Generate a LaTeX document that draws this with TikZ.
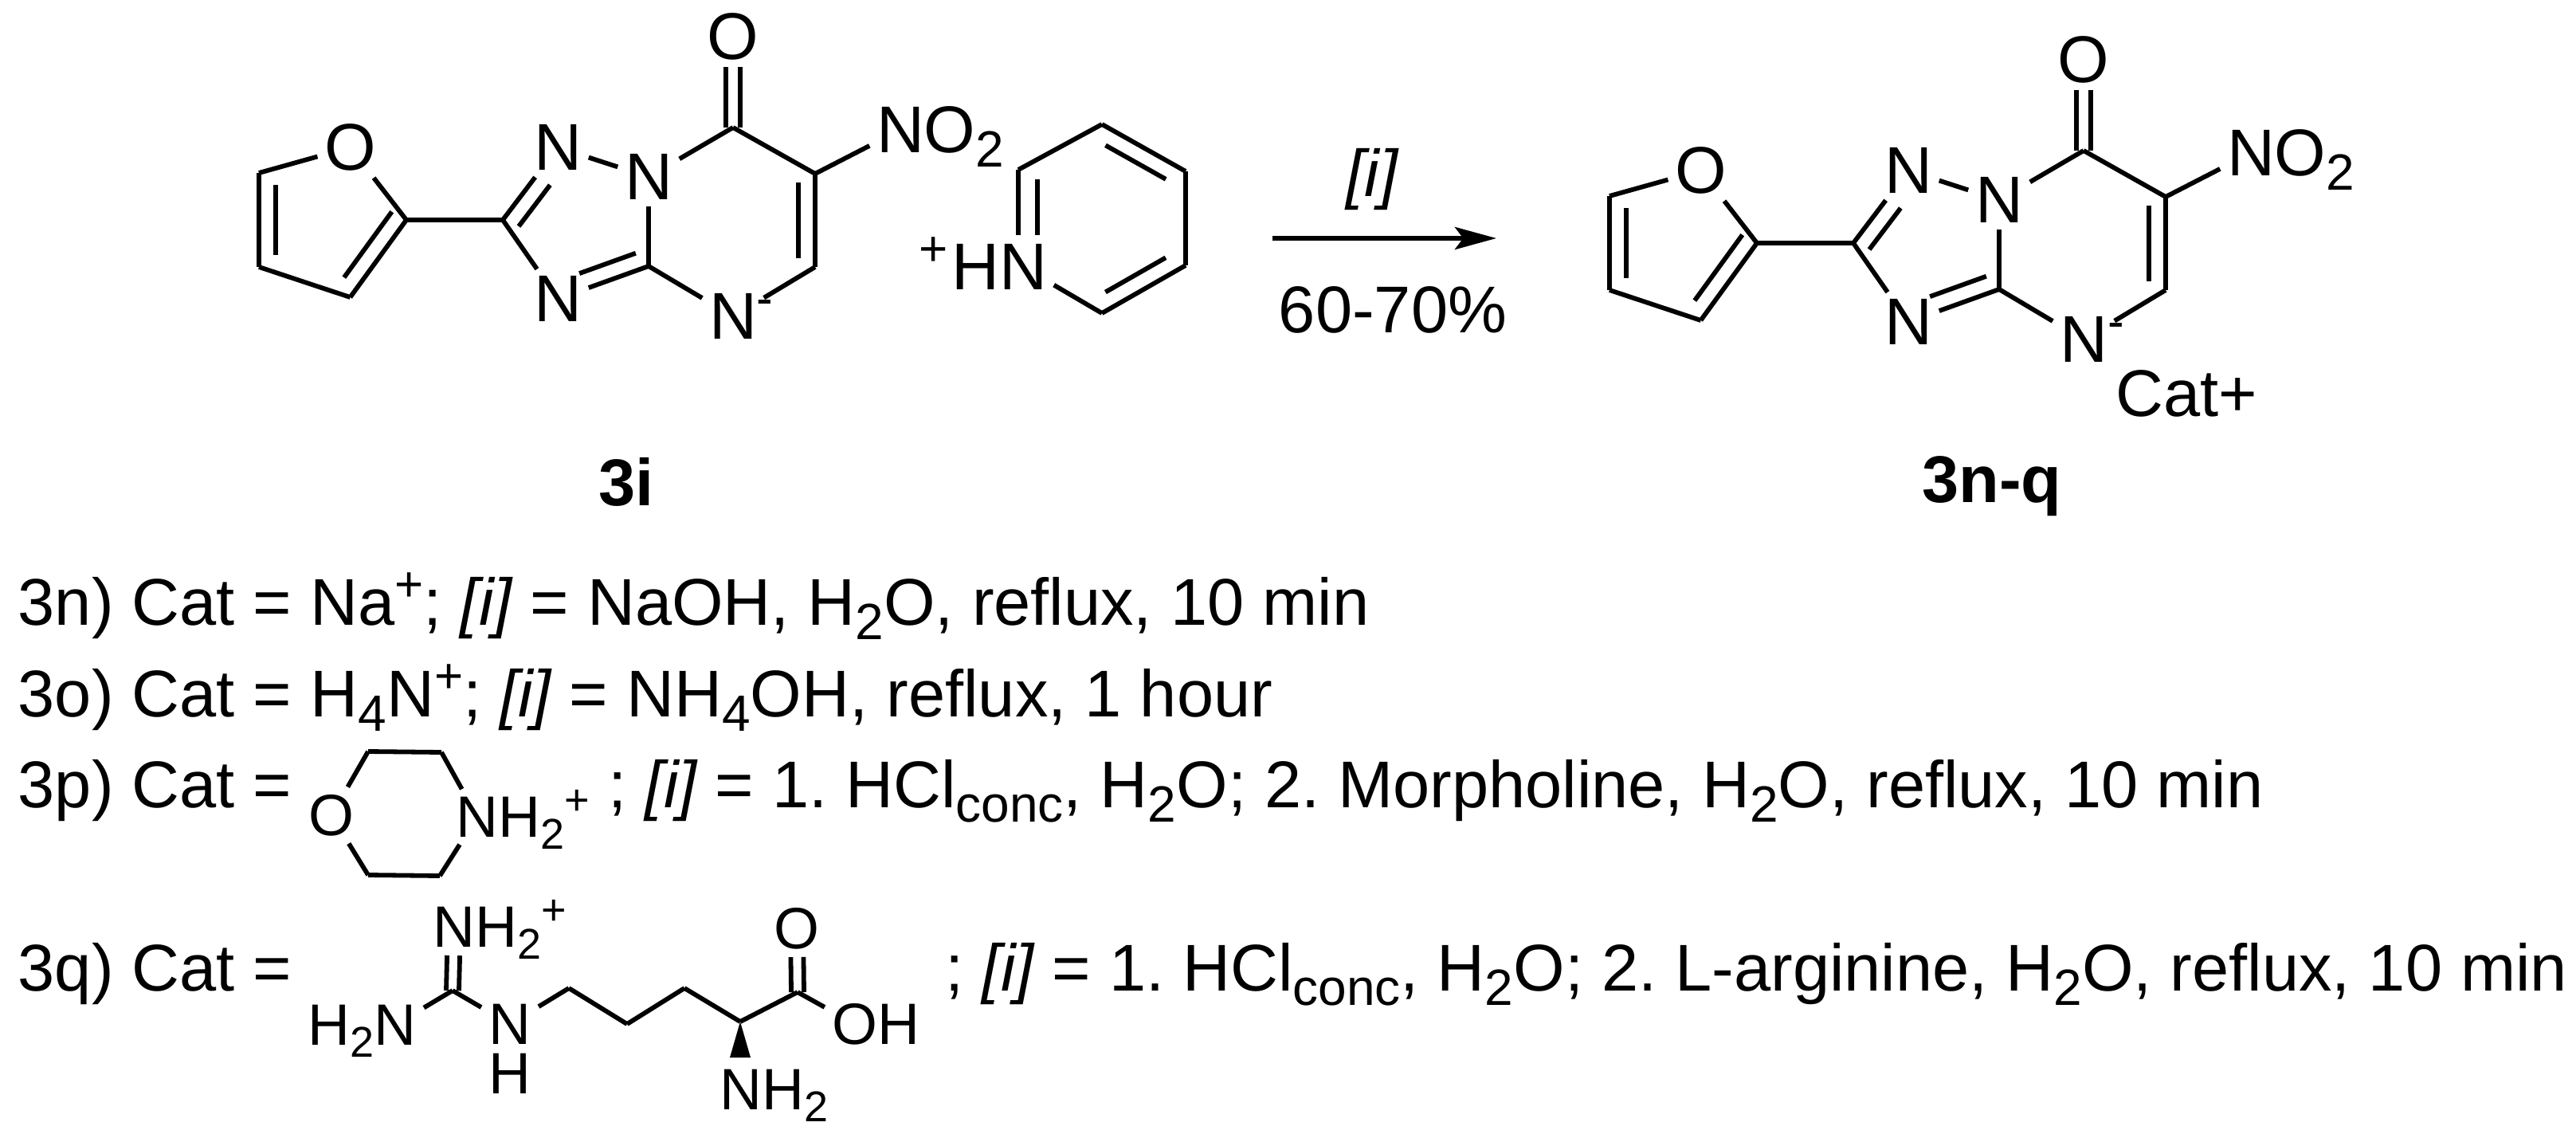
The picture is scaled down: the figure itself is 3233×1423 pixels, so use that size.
\documentclass[tikz,border=0pt]{standalone}
\usepackage{fontspec}
\setmainfont{Liberation Sans}
\usetikzlibrary{calc,arrows.meta}
\frenchspacing
\newcommand{\sbs}[1]{\smash{\raisebox{-4.5pt}{\fontsize{16}{16}\selectfont #1}}}
\newcommand{\sps}[1]{\smash{\raisebox{7.5pt}{\fontsize{15.5}{15.5}\selectfont #1}}}
\newcommand{\sbm}[1]{\smash{\raisebox{-3.8pt}{\fontsize{13.5}{13.5}\selectfont #1}}}
\newcommand{\spm}[1]{\smash{\raisebox{7pt}{\fontsize{13.5}{13.5}\selectfont #1}}}
\tikzset{
  x=0.25pt,y=-0.25pt,
  every node/.style={font=\fontsize{20.75}{25}\selectfont,text=black},
  atom/.style={inner sep=2pt,anchor=center},
  atomsm/.style={inner sep=2.2pt,anchor=center,font=\fontsize{18.3}{22}\selectfont},
  txt/.style={inner sep=0pt,anchor=base west},
  bondl/.style={line width=1.45pt,line cap=butt,line join=miter},
  arrowl/.style={line width=1.5pt,-{Stealth[length=13pt,width=7pt,inset=2.6pt]}},
}
\newcommand{\bnd}[2]{\draw[bondl] (#1) -- (#2);}
\newcommand{\inn}[5]{\draw[bondl] ($(#1)!#4!(#2)!#3!90:(#2)$) -- ($(#2)!#5!(#1)!#3!-90:(#1)$);}
\newcommand{\dblc}[4]{%
  \draw[bondl,shorten >=#4] ($(#1)!#3!90:(#2)$) -- ($(#2)!#3!-90:(#1)$);
  \draw[bondl,shorten >=#4] ($(#1)!#3!-90:(#2)$) -- ($(#2)!#3!90:(#1)$);}
\newcommand{\anion}{%
  \node[atom] (O1) at (439.5,185) {O};
  \coordinate (F1) at (325,217);
  \coordinate (F2) at (325,335);
  \coordinate (F3) at (439.5,373);
  \coordinate (F4) at (510,276);
  \coordinate (T1) at (631,276);
  \node[atom] (N1) at (700,185) {N};
  \node[atom] (N2) at (814,222) {N};
  \node[atom] (N3) at (700,375) {N};
  \coordinate (J) at (814,334);
  \coordinate (C7) at (920,160);
  \node[atom] (O2) at (920,46) {O};
  \coordinate (C6) at (1023,218);
  \coordinate (C5) at (1023,335);
  \node[atom] (N4) at (920,397) {N\rlap{\sps{-}}};
  \node[atom] (NX) at (1130,163) {N\rlap{O\sbs{2}}};
  \bnd{O1}{F1} \bnd{F1}{F2} \bnd{F2}{F3} \bnd{F3}{F4} \bnd{F4}{O1}
  \inn{F1}{F2}{5.2pt}{.13}{.13}
  \inn{F3}{F4}{5.2pt}{.13}{.02}
  \bnd{F4}{T1} \bnd{T1}{N1} \bnd{N1}{N2} \bnd{N2}{J} \bnd{J}{N3} \bnd{N3}{T1}
  \inn{T1}{N1}{-5.2pt}{.05}{.38}
  \inn{N3}{J}{5.2pt}{.3}{.08}
  \bnd{N2}{C7} \bnd{C7}{C6} \bnd{C6}{C5} \bnd{C5}{N4} \bnd{N4}{J}
  \inn{C6}{C5}{-5.2pt}{.09}{.09}
  \dblc{C7}{O2}{2.25pt}{9.5pt}
  \bnd{C6}{NX}
}
\begin{document}
\begin{tikzpicture}
\useasboundingbox (0,0) rectangle (3233,1423);
\fill[white] (0,0) rectangle (3233,1423);

\begin{scope}[name prefix=a-]
  \anion
\end{scope}
\coordinate (P1) at (1383,156);
\coordinate (P2) at (1488,215);
\coordinate (P3) at (1488,333);
\coordinate (P4) at (1383,393);
\node[atom] (PN) at (1284,335) {\llap{\sps{+}\kern1pt H}N};
\coordinate (P6) at (1278,213);
\coordinate (P5) at (1278,295);
\coordinate (P6i) at (1302,225);
\coordinate (P5i) at (1302,295);
\bnd{P6}{P1} \bnd{P1}{P2} \bnd{P2}{P3} \bnd{P3}{P4} \bnd{P4}{PN} \bnd{P6}{P5} \bnd{P6i}{P5i}
\inn{P1}{P2}{-5.2pt}{.14}{.14}
\inn{P3}{P4}{-5.2pt}{.14}{.14}

\node[txt,anchor=base] (L3i) at (786,634) {\bfseries 3i};

\coordinate (A1) at (1597,299);
\coordinate (A2) at (1878,299);
\draw[arrowl] (A1) -- (A2);
\node[txt,anchor=base] (Ai) at (1722,247) {\itshape [i]};
\node[txt,anchor=base] (Ay) at (1748,417) {60-70\%};

\begin{scope}[shift={(1695,29)},name prefix=b-]
  \anion
\end{scope}
\node[txt] (Cat) at (2655,522) {Cat+};
\node[txt,anchor=base] (L3n) at (2500,630) {\bfseries 3n-q};

\node[txt] (Ln) at (22,784) {3n) Cat = Na\sps{+}; {\itshape [i]} = NaOH, H\sbs{2}O, reflux, 10 min};
\node[txt] (Lo) at (22,899) {3o) Cat = H\sbs{4}N\sps{+}; {\itshape [i]} = NH\sbs{4}OH, reflux, 1 hour};
\node[txt] (Lp) at (22,1013) {3p) Cat =};
\node[txt] (Lp2) at (763,1013) {; {\itshape [i]} = 1. HCl\sbs{conc}, H\sbs{2}O; 2. Morpholine, H\sbs{2}O, reflux, 10 min};
\node[txt] (Lq) at (22,1243) {3q) Cat =};
\node[txt] (Lq2) at (1186,1243) {; {\itshape [i]} = 1. HCl\sbs{conc}, H\sbs{2}O; 2. L-arginine, H\sbs{2}O, reflux, 10 min};

% morpholine
\node[atomsm] (MO) at (416,1023) {O};
\node[atomsm] (MN) at (599,1025) {N\rlap{H\sbm{2}\spm{+}}};
\coordinate (M1) at (462,943);
\coordinate (M2) at (554,944);
\coordinate (M3) at (462,1098);
\coordinate (M4) at (552,1099);
\bnd{MO}{M1} \bnd{M1}{M2} \bnd{M2}{MN} \bnd{MN}{M4} \bnd{M4}{M3} \bnd{M3}{MO}

% arginine
\node[atomsm] (GN) at (570,1163) {N\rlap{H\sbm{2}\spm{+}}};
\coordinate (G) at (568,1243);
\node[atomsm] (GA) at (496,1286) {\llap{H\sbm{2}}N};
\node[atomsm,inner ysep=0pt] (GH) at (640,1285) {N\llap{\smash{\raisebox{-15.5pt}{H}}}};
\coordinate (A) at (714,1240);
\coordinate (B) at (787,1285);
\coordinate (Cc) at (859,1240);
\coordinate (D) at (929,1282);
\coordinate (E) at (1001,1245);
\node[atomsm] (EO) at (1000,1165) {O};
\node[atomsm] (EH) at (1073,1285) {O\rlap{H}};
\node[atomsm] (DN) at (930,1367) {N\rlap{H\sbm{2}}};
\coordinate (W1) at (916,1327);
\coordinate (W2) at (942,1327);
\dblc{G}{GN}{2pt}{9pt}
\bnd{G}{GA} \bnd{G}{GH} \bnd{GH}{A} \bnd{A}{B} \bnd{B}{Cc} \bnd{Cc}{D} \bnd{D}{E} \bnd{E}{EH}
\dblc{E}{EO}{2pt}{9pt}
\fill (D) -- (W1) -- (W2) -- cycle;
\end{tikzpicture}
\end{document}
